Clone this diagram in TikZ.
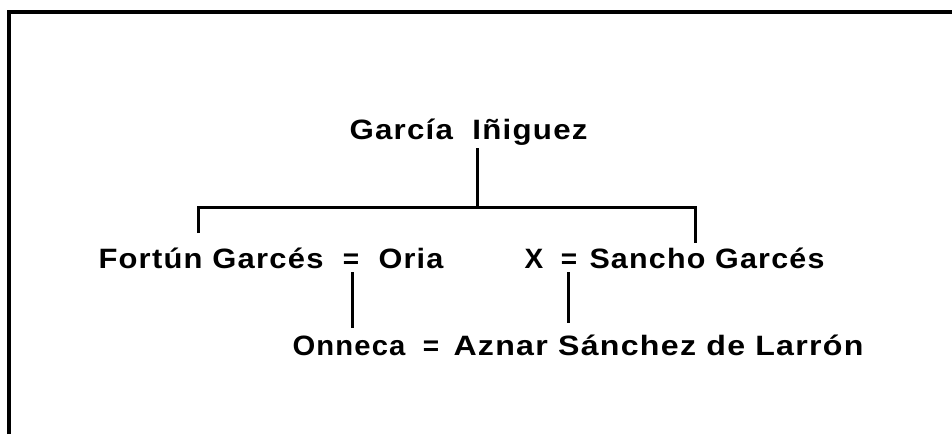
\documentclass[tikz,border=0pt]{standalone}
\usepackage{graphicx}
\usepackage{fontspec}
\setmainfont{Liberation Sans}[LetterSpace=4]
\newcommand{\fitw}[2]{\resizebox{#1}{\height}{#2}}
\begin{document}
\begin{tikzpicture}[x=1pt,y=-1pt,
  line width=3pt,
  lbl/.style={inner sep=0pt, font=\fontsize{28}{32}\selectfont\bfseries},
  frame/.style={line width=4pt}]
\useasboundingbox (0,0) rectangle (952,434);
\draw[frame] (9,434) -- (9,12) -- (952,12);
\node[lbl, anchor=base west] (gi) at (348,139) {\fitw{238pt}{García\hspace{0.3em} Iñiguez}};
\node[lbl, anchor=base west] (fg) at (97,268) {\fitw{225pt}{Fortún Garcés}};
\node[lbl, anchor=base] (eq1) at (351,268) {=};
\node[lbl, anchor=base west] (oria) at (377,268) {\fitw{65pt}{Oria}};
\node[lbl, anchor=base west] (x) at (523,268) {X};
\node[lbl, anchor=base] (eq2) at (569,268) {=};
\node[lbl, anchor=base west] (sg) at (588,268) {\fitw{235pt}{Sancho Garcés}};
\node[lbl, anchor=base west] (on) at (291,355) {\fitw{113pt}{Onneca}};
\node[lbl, anchor=base] (eq3) at (431,355) {=};
\node[lbl, anchor=base west] (asl) at (452,355) {\fitw{410pt}{Aznar Sánchez de Larrón}};
\coordinate (gtop) at (477,148);
\coordinate (gbar) at (477,207);
\coordinate (lb) at (198,207);
\coordinate (le) at (198,233);
\coordinate (rb) at (695,207);
\coordinate (re) at (695,243);
\coordinate (e1t) at (352,272);
\coordinate (e1b) at (352,328);
\coordinate (e2t) at (568,272);
\coordinate (e2b) at (568,323);
\draw (gtop) -- (gbar);
\draw (le) -- (lb) -- (rb) -- (re);
\draw (e1t) -- (e1b);
\draw (e2t) -- (e2b);
\end{tikzpicture}
\end{document}
